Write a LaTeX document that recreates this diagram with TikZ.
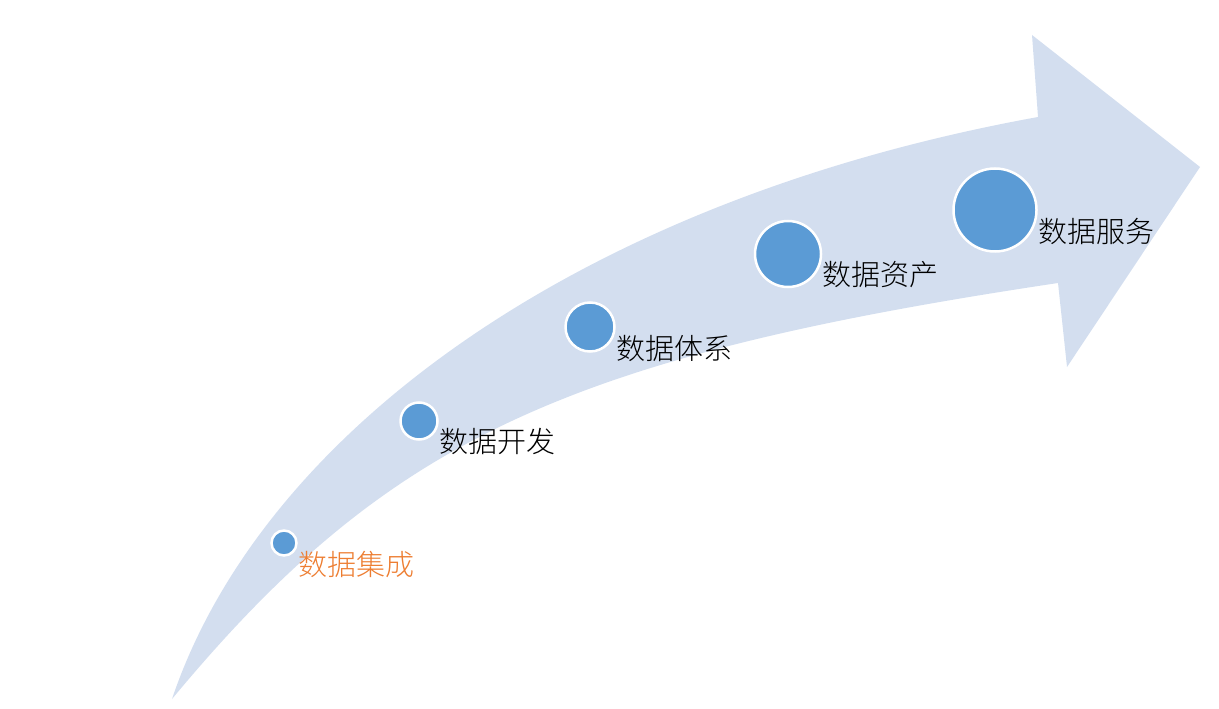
\documentclass[tikz,border=0pt]{standalone}
\usepackage{fontspec}
\setmainfont{Noto Sans CJK SC}[UprightFont={* Light}]
\definecolor{kband}{HTML}{D3DEEF}
\definecolor{kdot}{HTML}{5B9BD5}
\definecolor{korange}{HTML}{ED7D31}
\begin{document}
\begin{tikzpicture}[x=0.02cm,y=-0.02cm,
kdotst/.style={circle,fill=kdot,draw=white,line width=0.05cm,inner sep=0pt},
klbst/.style={anchor=west,inner sep=0pt,font=\fontsize{16.5}{20}\selectfont}]
\pgfmathsetmacro{\kpx}{0.02}
\useasboundingbox(0,0)rectangle(1219,709);
\fill[kband](172,699)..controls(262,432)and(580,200)..(1038,117)--(1032,35)--(1200,167)--(1067,367)--(1058,283)..controls(564,357)and(387,440)..(172,699)--cycle;
\foreach \kn/\kx/\ky/\kd/\kc/\klb in {1/284/543/25/korange/{数据集成},2/419/421/37/black/{数据开发},3/590/327/49/black/{数据体系},4/788/254/66/black/{数据资产},5/995/210/83/black/{数据服务}}{
\node[kdotst,minimum size=\kd*\kpx cm](c\kn)at(\kx,\ky){};
\node[klbst,text=\kc](l\kn)at([yshift=-21*\kpx cm]c\kn.east){\klb};}
\end{tikzpicture}
\end{document}
